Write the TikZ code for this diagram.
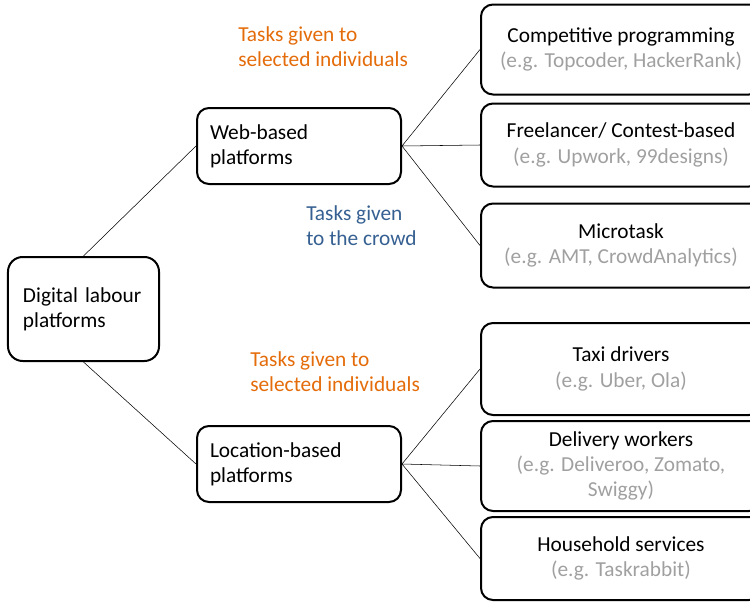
\documentclass[tikz,border=0pt]{standalone}
\usepackage{fontspec}
\setmainfont{Carlito}
\usepackage{tikz}
\usetikzlibrary{positioning}
\definecolor{taskOrange}{RGB}{228,108,10}
\definecolor{taskBlue}{RGB}{54,96,146}
\definecolor{exGray}{RGB}{160,160,160}
\newcommand{\exText}[1]{\textcolor{exGray}{#1}}
\tikzset{
    rootPunkt/.style={
           rectangle,
           rounded corners=11pt,
           draw=black, line width=1.5pt,
           minimum width=113.25pt,
           minimum height=78pt,
           inner xsep=11.25pt,
           text width=90.75pt,
           align=left},
    platPunkt/.style={
           rectangle,
           rounded corners=9pt,
           draw=black, line width=1.5pt,
           minimum width=153pt,
           minimum height=57pt,
           inner xsep=9.75pt,
           text width=133.5pt,
           align=left},
    katPunkt/.style={
           rectangle,
           rounded corners=9pt,
           draw=black, line width=1.5pt,
           minimum width=210pt,
           align=center},
    note/.style={
           inner sep=0pt,
           align=left},
    linje/.style={
           thin}
}

\begin{document}
\begin{tikzpicture}[node distance=1cm, font=\fontsize{16}{19}\selectfont]
	\node[rootPunkt] (Root) {Digital labour\\platforms};
	\useasboundingbox ([shift={(-5.25pt,192pt)}]Root.north west) rectangle ++(562.5pt,-450.75pt);
	\node[platPunkt, above right = 53.25pt and 27pt of Root] (WebBased) {Web-based\\platforms};
	\node[platPunkt, below right = 47.25pt and 27pt of Root] (LocBased) {Location-based\\platforms};
	% web-based categories
	\node[katPunkt, minimum height=62.25pt, right = 58.5pt of WebBased, yshift=0.75pt] (Freelancer) {Freelancer/ Contest-based\\\exText{(e.g. Upwork, 99designs)}};
	\node[katPunkt, minimum height=67.5pt, above = 5.25pt of Freelancer] (Competitive) {Competitive programming\\\exText{(e.g. Topcoder, HackerRank)}};
	\node[katPunkt, minimum height=63pt, below = 11.25pt of Freelancer] (Microtask) {Microtask\\\exText{(e.g. AMT, CrowdAnalytics)}};
	% location-based categories
	\node[katPunkt, minimum height=67.5pt, right = 58.5pt of LocBased, yshift=-1.5pt] (Delivery) {Delivery workers\\\exText{(e.g. Deliveroo, Zomato,}\\\exText{Swiggy)}};
	\node[katPunkt, minimum height=69pt, above = 3pt of Delivery] (Taxi) {Taxi drivers\\\exText{(e.g. Uber, Ola)}};
	\node[katPunkt, minimum height=62.25pt, below = 3pt of Delivery] (Household) {Household services\\\exText{(e.g. Taskrabbit)}};
	% task notes
	\node[note, text=taskOrange, above right = 30pt and 31.5pt of WebBased.north west] (SelWeb) {Tasks given to\\selected individuals};
	\node[note, text=taskBlue, below right = 15pt and 82.5pt of WebBased.south west] (CrowdWeb) {Tasks given\\to the crowd};
	\node[note, text=taskOrange, above right = 24.75pt and 40.5pt of LocBased.north west] (SelLoc) {Tasks given to\\selected individuals};
	\draw [linje] (Root.north) -- (WebBased.west);
	\draw [linje] (Root.south) -- (LocBased.west);
	\draw [linje] (WebBased.east) -- (Competitive.west);
	\draw [linje] (WebBased.east) -- (Freelancer.west);
	\draw [linje] (WebBased.east) -- (Microtask.west);
	\draw [linje] (LocBased.east) -- (Taxi.west);
	\draw [linje] (LocBased.east) -- (Delivery.west);
	\draw [linje] (LocBased.east) -- (Household.west);
\end{tikzpicture}
\end{document}
